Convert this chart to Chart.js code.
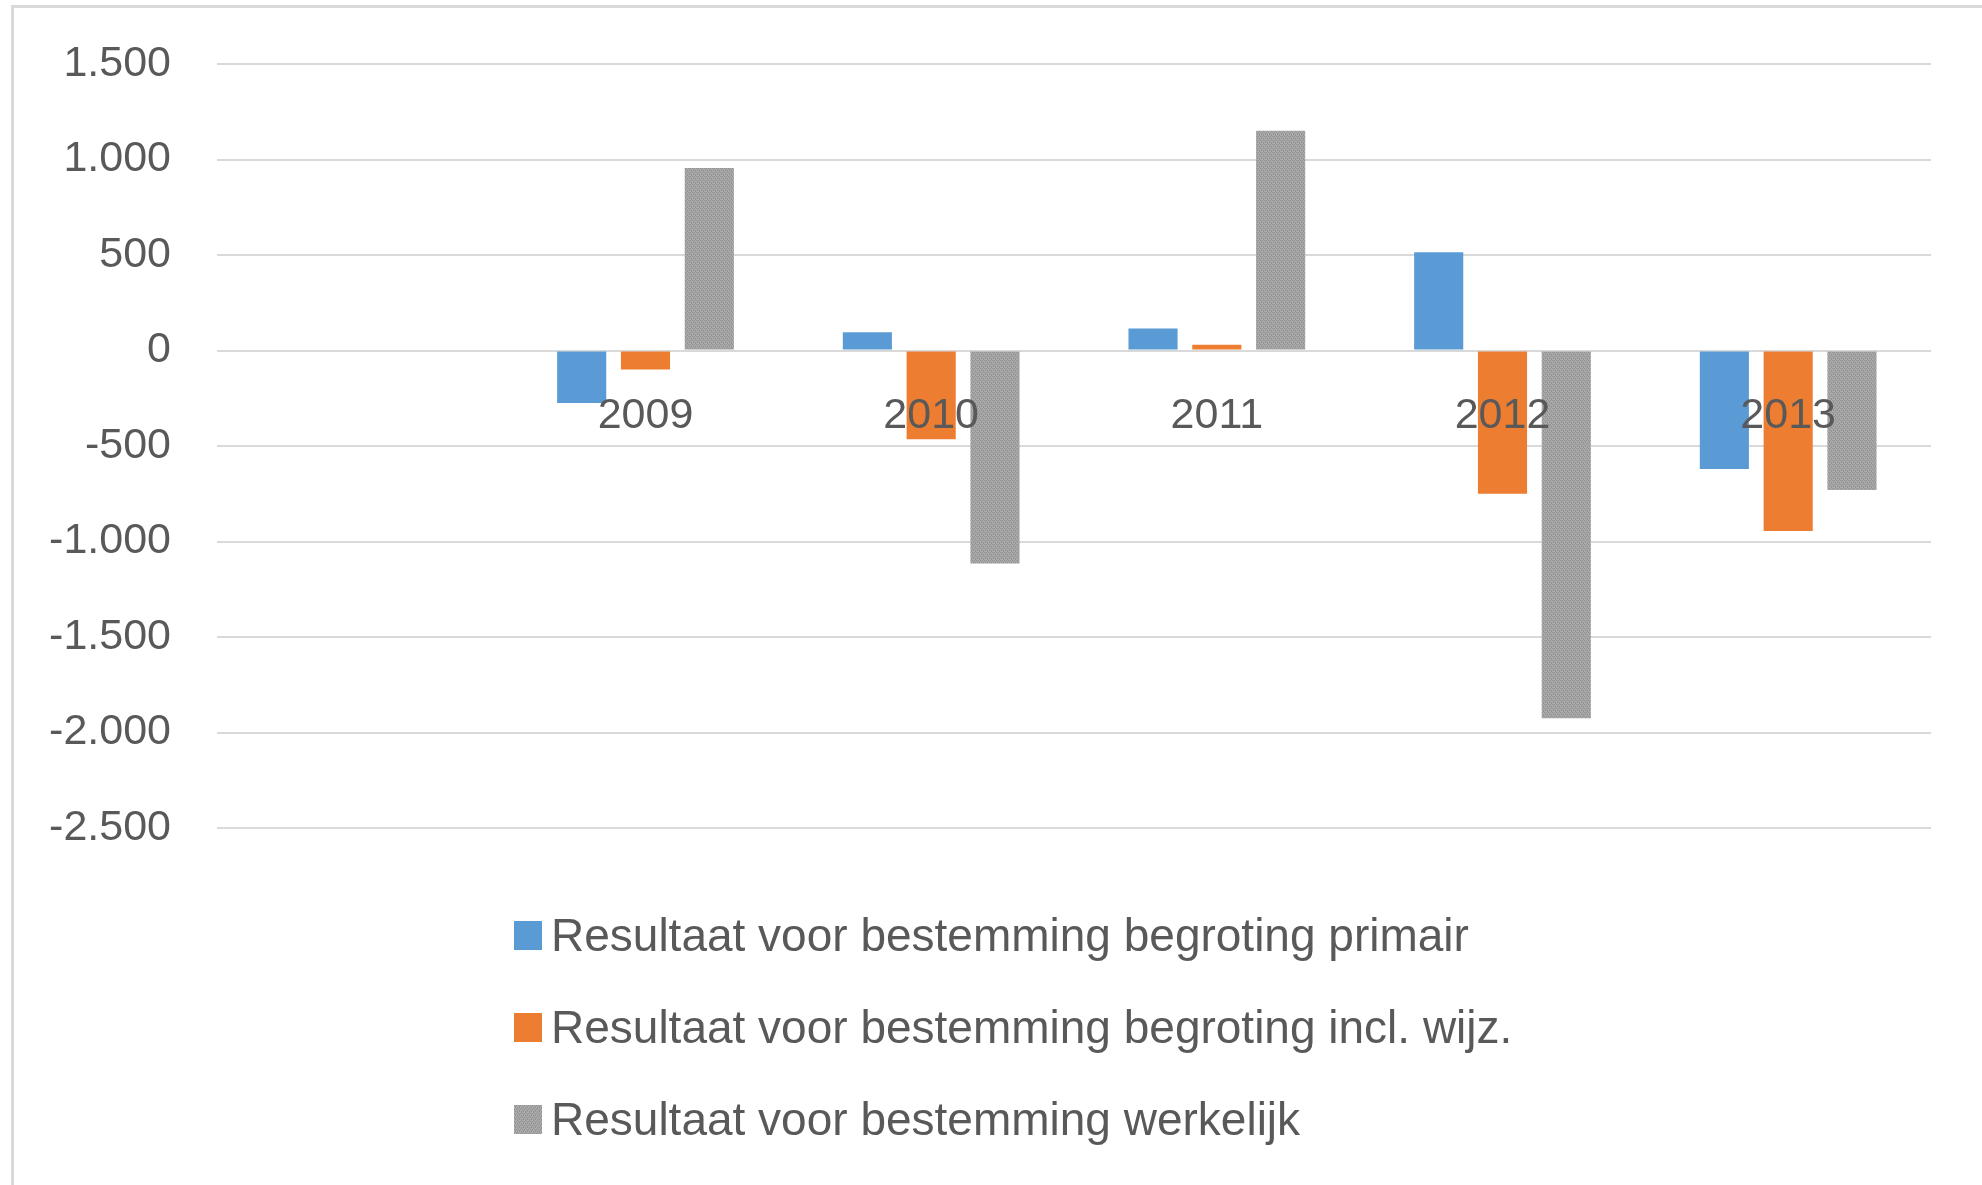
<!DOCTYPE html>
<html>
<head>
<meta charset="utf-8">
<script src="https://cdn.jsdelivr.net/npm/chart.js@4.4.1/dist/chart.umd.min.js"></script>
<style>
  html, body { margin: 0; padding: 0; background: #fff; overflow: hidden; }
  #wrap { position: relative; width: 1982px; height: 1185px; overflow: hidden; }
  #frame { position: absolute; left: 11px; top: 5px; width: 3000px; height: 3000px;
           border: 3px solid #D9D9D9; box-sizing: border-box; }
  #chartBox { position: absolute; left: 0; top: 0; width: 1982px; height: 1185px; }
  #legend { position: absolute; left: 514px; top: 889px; font-family: "Liberation Sans", Arial, sans-serif;
            font-size: 46px; color: #595959; }
  #legend .row { display: flex; align-items: center; height: 92px; white-space: nowrap; }
  #legend .box { width: 28px; height: 29px; margin-right: 9px; flex: none; }
</style>
</head>
<body>
<div id="wrap">
  <div id="frame"></div>
  <div id="chartBox"><canvas id="chart"></canvas></div>
  <div id="legend"></div>
</div>
<script>
// data
const categories = ['', '2009', '2010', '2011', '2012', '2013'];
const primair = [null, -275, 95, 115, 515, -620];
const inclWijz = [null, -100, -465, 30, -750, -945];
const werkelijk = [null, 955, -1115, 1150, -1925, -730];
const seriesNames = [
    'Resultaat voor bestemming begroting primair',
    'Resultaat voor bestemming begroting incl. wijz.',
    'Resultaat voor bestemming werkelijk'
];
const yMin = -2500;
const yMax = 1500;
const yStep = 500;

// dithered grey like the original
function greyPattern() {
    const c = document.createElement('canvas');
    c.width = 4; c.height = 4;
    const g = c.getContext('2d');
    g.fillStyle = '#AAAAAA';
    g.fillRect(0, 0, 4, 4);
    g.fillStyle = '#939393';
    g.fillRect(0, 0, 1, 1); g.fillRect(2, 0, 1, 1);
    g.fillRect(1, 2, 1, 1); g.fillRect(3, 2, 1, 1);
    g.fillRect(1, 1, 1, 1); g.fillRect(3, 3, 1, 1);
    return c;
}
const patCanvas = greyPattern();
const greyFill = document.getElementById('chart').getContext('2d').createPattern(patCanvas, 'repeat');

const colors = ['#5B9BD5', '#ED7D31', greyFill];

function fmt(v) {
    const s = String(Math.abs(v)).replace(/\B(?=(\d{3})+(?!\d))/g, '.');
    return (v < 0 ? '-' : '') + s;
}

const font = { family: '"Liberation Sans", Arial, sans-serif', size: 43 };

const chart = new Chart(document.getElementById('chart'), {
    type: 'bar',
    data: {
        labels: categories,
        datasets: [
            { label: seriesNames[0], data: primair, backgroundColor: colors[0] },
            { label: seriesNames[1], data: inclWijz, backgroundColor: colors[1] },
            { label: seriesNames[2], data: werkelijk, backgroundColor: colors[2] }
        ]
    },
    options: {
        responsive: true,
        maintainAspectRatio: false,
        animation: false,
        datasets: {
            bar: { categoryPercentage: 0.67, barPercentage: 0.77, borderWidth: 0 }
        },
        layout: { padding: { left: 0, top: 64, right: 51, bottom: 357 } },
        plugins: {
            legend: { display: false },
            tooltip: { enabled: false }
        },
        scales: {
            x: {
                position: { y: 0 },
                grid: { display: false, drawTicks: false },
                border: { display: false },
                ticks: {
                    z: 1, // year labels sit on top of the bars, like in excel
                    color: '#595959', font: font, padding: 40, autoSkip: false, maxRotation: 0
                }
            },
            y: {
                min: yMin,
                max: yMax,
                grid: { color: '#D9D9D9', lineWidth: 2, drawTicks: false },
                border: { display: false },
                ticks: {
                    stepSize: yStep,
                    color: '#595959',
                    font: font,
                    padding: 46,
                    callback: (v) => fmt(v)
                },
                afterFit: (scale) => {
                    scale.width = 217;
                    // tick padding otherwise pushes the plot top down
                    scale.paddingTop = 0;
                    scale.paddingBottom = 0;
                }
            }
        }
    }
});

// legend as html, one item per row
const legendEl = document.getElementById('legend');
const swatchUrl = patCanvas.toDataURL();
chart.data.datasets.forEach((ds, i) => {
    const row = document.createElement('div');
    row.className = 'row';
    const box = document.createElement('span');
    box.className = 'box';
    if (i === 2) box.style.background = 'url(' + swatchUrl + ')';
    else box.style.background = ds.backgroundColor;
    const txt = document.createElement('span');
    txt.textContent = ds.label;
    row.appendChild(box);
    row.appendChild(txt);
    legendEl.appendChild(row);
});
</script>
</body>
</html>
